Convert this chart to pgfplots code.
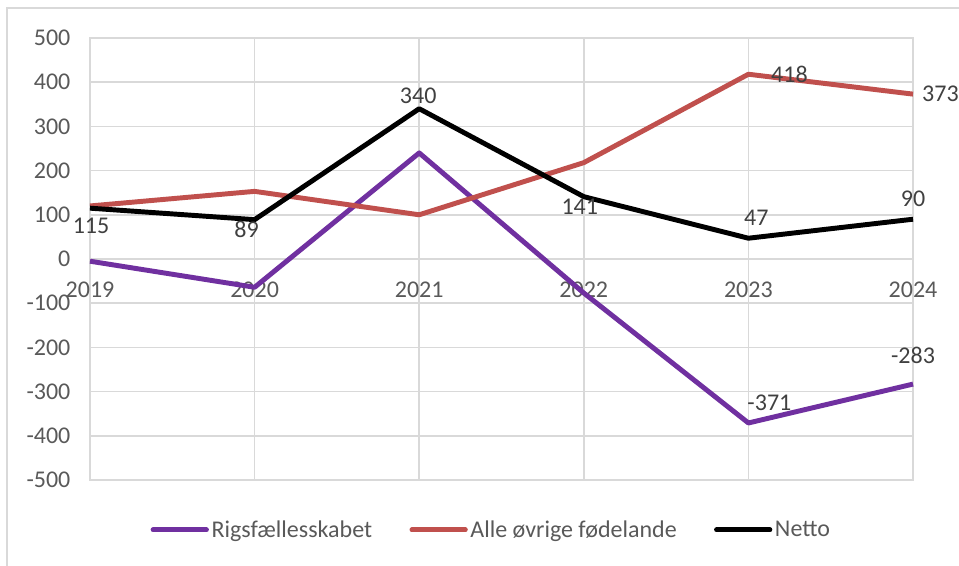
\documentclass[border=0pt]{standalone}
\usepackage{fontspec}
\setmainfont{Carlito}
\usepackage{pgfplots}
\usepackage{pgfplotstable}
\pgfplotsset{compat=1.18}
\definecolor{cpurple}{HTML}{7030A0}
\definecolor{cred}{HTML}{C0504D}
\definecolor{cgrid}{HTML}{D9D9D9}
\definecolor{ctick}{HTML}{595959}
\definecolor{clabel}{HTML}{404040}

\pgfplotstableread{
x rigs ovrige netto
0 -5 120 115
1 -64 153 89
2 240 100 340
3 -77 218 141
4 -371 418 47
5 -283 373 90
}\data

\pgfplotstableread{
x y dx dy lbl
0 115 0.75 -13.5 115
1 89 -6 -7.5 89
2 340 -0.75 9.75 340
3 141 -3 -7.5 141
4 47 6 15 47
5 90 0 15 90
}\nettolbl

\pgfplotstableread{
x y dx dy lbl
4 418 30.75 0 418
5 373 20.6 0 373
}\ovrigelbl

\pgfplotstableread{
x y dx dy lbl
4 -371 15.75 15.4 -371
5 -283 0 21.5 -283
}\rigslbl

\begin{document}
\begin{tikzpicture}
\useasboundingbox (0,0) rectangle (719.25pt,424.5pt);
\draw[cgrid, line width=1.1pt] (5.25pt,0pt) -- (5.25pt,418.5pt) -- (719.25pt,418.5pt);
\begin{axis}[
  at={(67.5pt,64.5pt)}, anchor=south west,
  scale only axis, width=617.25pt, height=331.5pt,
  xmin=0, xmax=5, ymin=-500, ymax=500,
  xtick={0,1,2,3,4,5}, xticklabels={2019,2020,2021,2022,2023,2024},
  ytick={-500,-400,-300,-200,-100,0,100,200,300,400,500},
  yticklabels={-500,-400,-300,-200,-100,0,100,200,300,400,500},
  grid=major, grid style={cgrid, line width=1.1pt},
  axis line style={cgrid, line width=1.1pt},
  major tick length=0pt,
  tick label style={font=\fontsize{18}{21}\selectfont, text=ctick},
  xticklabel style={anchor=center, yshift=142.5pt},
  yticklabel style={xshift=-11.2pt},
  clip=false,
  legend style={at={(0.488,-0.113)}, anchor=center, draw=none, fill=none,
    font=\fontsize{18}{21}\selectfont, text=ctick, inner sep=0pt,
    /tikz/every even column/.append style={column sep=26pt}},
  legend columns=3,
  legend image code/.code={\draw[#1, line cap=round] (0pt,0pt) -- (40pt,0pt);},
  every node near coord/.append style={font=\fontsize{18}{21}\selectfont, text=clabel, anchor=center, xshift=\lbldx pt, yshift=\lbldy pt},
]
\addplot[cpurple, line width=3.7pt, line join=round] table[x=x, y=rigs] {\data};
\addlegendentry{Rigsfællesskabet}
\addplot[cred, line width=3.7pt, line join=round] table[x=x, y=ovrige] {\data};
\addlegendentry{Alle øvrige fødelande}
\addplot[black, line width=3.7pt, line join=round] table[x=x, y=netto] {\data};
\addlegendentry{Netto}

\addplot[draw=none, forget plot, nodes near coords, point meta=explicit symbolic,
  visualization depends on={\thisrow{dx} \as \lbldx},
  visualization depends on={\thisrow{dy} \as \lbldy}]
  table[x=x, y=y, meta=lbl] {\nettolbl};
\addplot[draw=none, forget plot, nodes near coords, point meta=explicit symbolic,
  visualization depends on={\thisrow{dx} \as \lbldx},
  visualization depends on={\thisrow{dy} \as \lbldy}]
  table[x=x, y=y, meta=lbl] {\ovrigelbl};
\addplot[draw=none, forget plot, nodes near coords, point meta=explicit symbolic,
  visualization depends on={\thisrow{dx} \as \lbldx},
  visualization depends on={\thisrow{dy} \as \lbldy}]
  table[x=x, y=y, meta=lbl] {\rigslbl};
\end{axis}
\end{tikzpicture}
\end{document}
